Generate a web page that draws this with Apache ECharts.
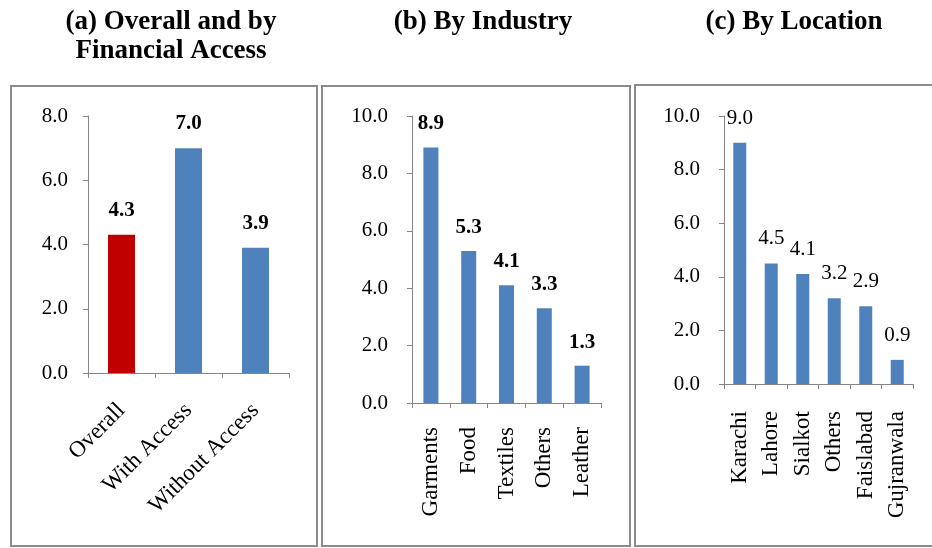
<!DOCTYPE html>
<html>
<head>
<meta charset="utf-8">
<script src="https://cdn.jsdelivr.net/npm/echarts@6/dist/echarts.min.js"></script>
<style>
  html, body { margin: 0; padding: 0; background: #fff; }
  #chart { width: 932px; height: 548px; }
</style>
</head>
<body>
<div id="chart"></div>
<script>
// Panel (a): overall and by financial access
const catsA = ['Overall', 'With Access', 'Without Access'];
const valsA = [4.3, 7.0, 3.9];
const colorsA = ['#c00000', '#4f81bd', '#4f81bd'];

// Panel (b): by industry
const catsB = ['Garments', 'Food', 'Textiles', 'Others', 'Leather'];
const valsB = [8.9, 5.3, 4.1, 3.3, 1.3];

// Panel (c): by location
const catsC = ['Karachi', 'Lahore', 'Sialkot', 'Others', 'Faislabad', 'Gujranwala'];
const valsC = [9.0, 4.5, 4.1, 3.2, 2.9, 0.9];

// Value-axis ranges
const yMax = [8, 10, 10];
const yStep = 2;

const FONT = 'Liberation Serif';
const BLUE = '#4f81bd';
const AXIS = '#868686';

function yAxis(idx, max, margin) {
  return {
    type: 'value', gridIndex: idx, min: 0, max: max, interval: yStep,
    axisLine: { show: true, lineStyle: { color: AXIS, width: 1 } },
    axisTick: { show: true, length: 5, lineStyle: { color: AXIS } },
    splitLine: { show: false },
    axisLabel: {
      margin: margin, fontFamily: FONT, fontSize: 21, color: '#000',
      formatter: v => v.toFixed(1)
    }
  };
}

function xAxis(idx, cats, rotate, margin) {
  return {
    type: 'category', gridIndex: idx, data: cats,
    axisLine: { show: true, lineStyle: { color: AXIS, width: 1 } },
    axisTick: { show: true, length: 5, lineStyle: { color: AXIS } },
    axisLabel: {
      interval: 0, rotate: rotate, margin: margin,
      fontFamily: FONT, fontSize: 23, color: '#000'
    }
  };
}

const chart = echarts.init(document.getElementById('chart'), null, { renderer: 'canvas' });

const titleStyle = { fontFamily: FONT, fontSize: 27, fontWeight: 'bold', color: '#000', lineHeight: 29 };

chart.setOption({
  animation: false,
  title: [
    { text: '(a) Overall and by\nFinancial Access', left: 166, top: 3, textAlign: 'center', textStyle: titleStyle },
    { text: '(b) By Industry', left: 478, top: 3, textAlign: 'center', textStyle: titleStyle },
    { text: '(c) By Location', left: 789, top: 3, textAlign: 'center', textStyle: titleStyle }
  ],
  graphic: [
    { type: 'rect', shape: { x: 11, y: 86, width: 306, height: 460 }, style: { fill: 'none', stroke: '#8a8a8a', lineWidth: 2 } },
    { type: 'rect', shape: { x: 322, y: 86, width: 308, height: 460 }, style: { fill: 'none', stroke: '#8a8a8a', lineWidth: 2 } },
    { type: 'rect', shape: { x: 635, y: 85, width: 310, height: 461 }, style: { fill: 'none', stroke: '#8a8a8a', lineWidth: 2 } }
  ],
  grid: [
    { left: 88, top: 116, width: 201, height: 257 },
    { left: 412, top: 116, width: 189, height: 287 },
    { left: 724, top: 116, width: 189, height: 268 }
  ],
  xAxis: [
    xAxis(0, catsA, 45, 34),
    xAxis(1, catsB, 90, 24),
    xAxis(2, catsC, 90, 27)
  ],
  yAxis: [
    yAxis(0, yMax[0], 20),
    yAxis(1, yMax[1], 24),
    yAxis(2, yMax[2], 24)
  ],
  series: [
    {
      type: 'bar', xAxisIndex: 0, yAxisIndex: 0, barWidth: 27,
      data: valsA.map((v, i) => ({ value: v, itemStyle: { color: colorsA[i] } })),
      label: { show: true, position: 'top', distance: 14, fontFamily: FONT, fontSize: 21, fontWeight: 'bold', color: '#000', formatter: p => p.value.toFixed(1) }
    },
    {
      type: 'bar', xAxisIndex: 1, yAxisIndex: 1, barWidth: 15,
      itemStyle: { color: BLUE },
      data: valsB,
      label: { show: true, position: 'top', distance: 13, fontFamily: FONT, fontSize: 21, fontWeight: 'bold', color: '#000', formatter: p => p.value.toFixed(1) }
    },
    {
      type: 'bar', xAxisIndex: 2, yAxisIndex: 2, barWidth: 13,
      itemStyle: { color: BLUE },
      data: valsC,
      label: { show: true, position: 'top', distance: 14, fontFamily: FONT, fontSize: 21, color: '#000', formatter: p => p.value.toFixed(1) }
    }
  ]
});
</script>
</body>
</html>
